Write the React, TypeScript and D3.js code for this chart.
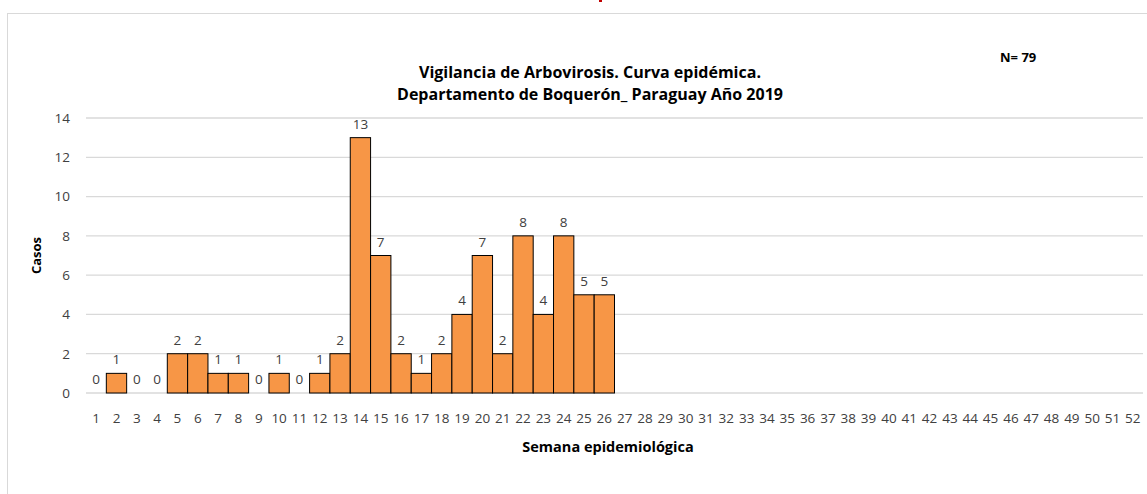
import React, { useEffect, useRef } from 'react';
import * as d3 from 'd3';

// Casos por semana epidemiológica (semanas 1-26 con dato, resto vacías)
const weeks: number[] = d3.range(1, 53);
const cases: (number | null)[] = [
  0, 1, 0, 0, 2, 2, 1, 1, 0, 1, 0, 1, 2, 13, 7, 2, 1, 2, 4, 7, 2, 8, 4, 8, 5, 5,
];
const yTicks: number[] = [0, 2, 4, 6, 8, 10, 12, 14];
const titleLines: string[] = [
  'Vigilancia de Arbovirosis. Curva epidémica.',
  'Departamento de Boquerón_ Paraguay Año 2019',
];
const nLabel = 'N= 79';

const W = 1147;
const H = 494;
const FONT = '"Open Sans", "Noto Sans", sans-serif';

const App = () => {
  const svgRef = useRef<SVGSVGElement>(null);

  useEffect(() => {
    document.body.style.margin = '0';
    const svg = d3.select(svgRef.current);
    svg.selectAll('*').remove();
    svg.attr('width', W).attr('height', H).style('font-family', FONT);

    svg.append('rect').attr('width', W).attr('height', H).attr('fill', '#fff');

    // marco del gráfico
    svg.append('rect')
      .attr('x', 7.5).attr('y', 13.5)
      .attr('width', W + 20).attr('height', H + 20)
      .attr('fill', 'none').attr('stroke', '#d9d9d9');

    // resto de texto rojo recortado arriba
    svg.append('rect').attr('x', 599).attr('y', 0).attr('width', 3).attr('height', 2).attr('fill', '#c00000');

    const margin = { top: 118, left: 86, right: 4, bottom: 101 };
    const innerW = W - margin.left - margin.right;
    const innerH = H - margin.top - margin.bottom;

    const g = svg.append('g').attr('transform', `translate(${margin.left},${margin.top})`);

    const x = d3.scaleBand<number>().domain(weeks).range([0, innerW]).padding(0);
    const y = d3.scaleLinear().domain([0, 14]).range([innerH, 0]);

    // grid
    g.append('g')
      .selectAll('line')
      .data(yTicks)
      .enter()
      .append('line')
      .attr('x1', 0).attr('x2', innerW)
      .attr('y1', d => y(d)).attr('y2', d => y(d))
      .attr('stroke', '#d9d9d9').attr('stroke-width', 1.3);

    // eje y
    const yAxis = g.append('g').call(d3.axisLeft(y).tickValues(yTicks).tickSize(0).tickPadding(16));
    yAxis.select('.domain').remove();
    yAxis.selectAll('text').attr('fill', '#404040').style('font-size', '13.5px').style('font-family', FONT);

    // eje x
    const xAxis = g.append('g')
      .attr('transform', `translate(0,${innerH})`)
      .call(d3.axisBottom(x).tickSize(0).tickPadding(20));
    xAxis.select('.domain').remove();
    xAxis.selectAll('text').attr('fill', '#404040').style('font-size', '13.5px').style('font-family', FONT);

    const data = weeks.map((w, i) => ({ week: w, value: cases[i] ?? null }));

    // barras
    g.selectAll('.bar')
      .data(data.filter(d => d.value !== null && d.value > 0))
      .enter()
      .append('rect')
      .attr('class', 'bar')
      .attr('x', d => x(d.week)!)
      .attr('y', d => y(d.value as number))
      .attr('width', x.bandwidth())
      .attr('height', d => innerH - y(d.value as number))
      .attr('fill', '#f79646')
      .attr('stroke', '#000')
      .attr('stroke-width', 1);

    // etiquetas de datos
    g.selectAll('.lbl')
      .data(data.filter(d => d.value !== null))
      .enter()
      .append('text')
      .attr('x', d => x(d.week)! + x.bandwidth() / 2)
      .attr('y', d => y(d.value as number) - 9)
      .attr('text-anchor', 'middle')
      .attr('fill', '#404040')
      .style('font-size', '13.5px')
      .text(d => String(d.value));

    // títulos
    svg.append('text')
      .attr('text-anchor', 'middle')
      .attr('font-weight', 'bold')
      .attr('fill', '#000')
      .style('font-size', '16px')
      .selectAll('tspan')
      .data(titleLines)
      .enter()
      .append('tspan')
      .attr('x', 590)
      .attr('y', (d, i) => 78 + i * 22)
      .text(d => d);

    svg.append('text')
      .attr('x', 1000).attr('y', 62)
      .attr('font-weight', 'bold')
      .style('font-size', '13px')
      .text(nLabel);

    svg.append('text')
      .attr('transform', `translate(41,${margin.top + innerH / 2}) rotate(-90)`)
      .attr('text-anchor', 'middle')
      .attr('font-weight', 'bold')
      .style('font-size', '13px')
      .text('Casos');

    svg.append('text')
      .attr('x', 608).attr('y', 452)
      .attr('text-anchor', 'middle')
      .attr('font-weight', 'bold')
      .style('font-size', '14.5px')
      .text('Semana epidemiológica');
  }, []);

  return (
    <div style={{ position: 'absolute', left: 0, top: 0 }}>
      <svg ref={svgRef}></svg>
    </div>
  );
};

export default App;
